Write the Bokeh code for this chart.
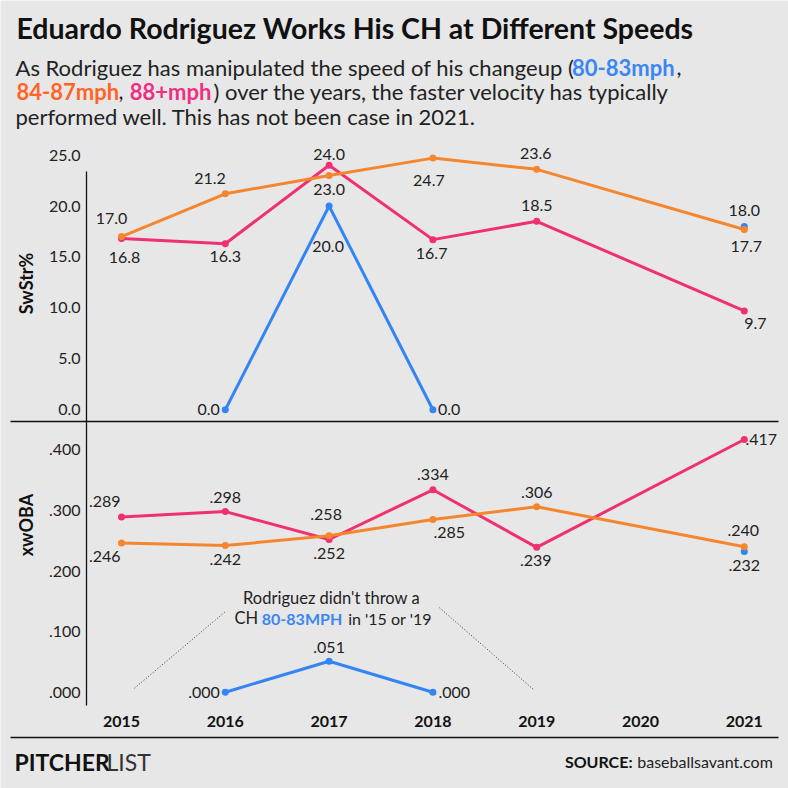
import math
from bokeh.plotting import figure
from bokeh.models import Range1d, LinearAxis, FixedTicker, PrintfTickFormatter, CustomJSTickFormatter
from bokeh.core.properties import value
from bokeh.embed import file_html
from bokeh.resources import INLINE

nan = float("nan")

# ---------------- data ----------------
years = [2015, 2016, 2017, 2018, 2019, 2021]
year_ticks = [2015, 2016, 2017, 2018, 2019, 2020, 2021]
series_names = ["80-83mph", "84-87mph", "88+mph"]

swstr_80_83 = [nan, 0.0, 20.0, 0.0, nan, 18.0]
swstr_84_87 = [17.0, 21.2, 23.0, 24.7, 23.6, 17.7]
swstr_88 = [16.8, 16.3, 24.0, 16.7, 18.5, 9.7]

xwoba_80_83 = [nan, 0.000, 0.051, 0.000, nan, 0.232]
xwoba_84_87 = [0.246, 0.242, 0.258, 0.285, 0.306, 0.240]
xwoba_88 = [0.289, 0.298, 0.252, 0.334, 0.239, 0.417]

swstr_ticks = [0, 5, 10, 15, 20, 25]
xwoba_ticks = [0.0, 0.1, 0.2, 0.3, 0.4]

title_text = "Eduardo Rodriguez Works His CH at Different Speeds"

# ---------------- styles ----------------
BG = "#e7e7e7"
DARK = "#222222"
COL = {"80-83mph": "#3384f4", "84-87mph": "#f5862e", "88+mph": "#f03070"}
SUBCOL = {"80-83mph": "#3a86f2", "84-87mph": "#ff6425", "88+mph": "#ee2f82"}
FONT = "Lato"

# label offsets (screen px) per point: (dx, dy)
sw_off = {
    "80-83mph": [None, (-16.7, 0), (-1, 40), (16.3, 0), None, (0, -16)],
    "84-87mph": [(-10, -18.4), (-15.3, -15.6), (0, 14), (-4, 22.4), (-1, -16), (2, 17)],
    "88+mph": [(3, 18.6), (0, 13), (0, -10.4), (-1.3, 13.6), (0, -15.8), (11, 13)],
}
xw_off = {
    "80-83mph": [None, (-21.3, 0), (0, -14), (21.3, 0), None, (0, 14)],
    "84-87mph": [(-16.7, 13.4), (0, 14), (-3, -21), (16.3, 13.3), (0, -14.6), (-1, -16)],
    "88+mph": [(-16.7, -15.6), (0, -14.4), (0, 14.3), (0, -15), (-1, 13), (17, 0)],
}

W = H = 788
p = figure(width=W, height=H, output_backend="svg", toolbar_location=None,
           x_range=Range1d(0, W), y_range=Range1d(H, 0),
           x_axis_type=None, y_axis_type=None,
           min_border=0, min_border_left=0, min_border_right=0,
           min_border_top=0, min_border_bottom=0)
p.background_fill_color = BG
p.border_fill_color = BG
p.outline_line_color = None
p.grid.visible = False

# year scale and the two value scales (mapped into the two panels)
p.extra_x_ranges = {"yr": Range1d(2013.8343, 2021.4258)}
p.extra_y_ranges = {"sw": Range1d(-37.164, 40.167), "xw": Range1d(-0.15891, 1.14142)}

AX_X = 86  # pixel position of the vertical axis lines


def value_axis(rng, ticks, fmt, line_bounds, label, label_center):
    # tick labels
    a = LinearAxis(y_range_name=rng, ticker=FixedTicker(ticks=ticks), formatter=fmt,
                   fixed_location=AX_X)
    a.axis_line_color = None
    a.major_tick_line_color = None
    a.minor_tick_line_color = None
    a.major_tick_out = 0
    a.major_tick_in = 0
    a.minor_tick_out = 0
    a.major_label_standoff = 6
    a.major_label_text_font = FONT
    a.major_label_text_font_size = "16px"
    a.major_label_text_color = DARK
    p.add_layout(a, "left")
    # axis line
    b = LinearAxis(y_range_name=rng, ticker=FixedTicker(ticks=[]), fixed_location=AX_X,
                   bounds=line_bounds)
    b.axis_line_color = "#111111"
    b.axis_line_width = 1.3
    b.major_tick_out = 0
    b.minor_tick_out = 0
    p.add_layout(b, "left")
    # axis title
    c = LinearAxis(y_range_name=rng, ticker=FixedTicker(ticks=[]), fixed_location=AX_X,
                   bounds=(label_center - 0.5, label_center + 0.5))
    c.axis_line_color = None
    c.major_tick_out = 0
    c.minor_tick_out = 0
    c.major_label_standoff = 0
    c.axis_label = label
    c.axis_label_standoff = 50
    c.axis_label_text_font = FONT
    c.axis_label_text_font_style = "bold"
    c.axis_label_text_font_size = "18px"
    c.axis_label_text_color = "#111111"
    p.add_layout(c, "left")


value_axis("sw", swstr_ticks, PrintfTickFormatter(format="%.1f"), (-1.148, 23.386), "SwStr%", 12.4)
value_axis("xw", xwoba_ticks,
           CustomJSTickFormatter(code="return tick.toFixed(3).replace(/^0/, '');"),
           (-0.02195, 0.4467), "xwOBA", 0.2111)

# horizontal rules
for yloc in (421, 737):
    r = LinearAxis(ticker=FixedTicker(ticks=[]), fixed_location=yloc, bounds=(10, 778))
    r.axis_line_color = "#111111"
    r.axis_line_width = 1.5
    r.major_tick_out = 0
    r.minor_tick_out = 0
    p.add_layout(r, "below")

# year axis
ya = LinearAxis(x_range_name="yr", ticker=FixedTicker(ticks=year_ticks), fixed_location=709)
ya.axis_line_color = None
ya.major_tick_line_color = None
ya.minor_tick_line_color = None
ya.major_tick_out = 0
ya.minor_tick_out = 0
ya.major_label_standoff = 6
ya.major_label_text_font = FONT
ya.major_label_text_font_style = "bold"
ya.major_label_text_font_size = "16px"
ya.major_label_text_color = "#111111"
p.add_layout(ya, "below")

# ---------------- series ----------------
sw_data = {"80-83mph": swstr_80_83, "84-87mph": swstr_84_87, "88+mph": swstr_88}
xw_data = {"80-83mph": xwoba_80_83, "84-87mph": xwoba_84_87, "88+mph": xwoba_88}
order = ["80-83mph", "88+mph", "84-87mph"]

for rng, data in (("sw", sw_data), ("xw", xw_data)):
    for name in order:
        vals = data[name]
        p.line(years, vals, x_range_name="yr", y_range_name=rng,
               line_color=COL[name], line_width=3)
        p.scatter(years, vals, x_range_name="yr", y_range_name=rng,
                  size=7, fill_color=COL[name], line_color=None)


def fmt_sw(v):
    return "%.1f" % v


def fmt_xw(v):
    return ("%.3f" % v).lstrip("0")


for rng, data, offs, f in (("sw", sw_data, sw_off, fmt_sw), ("xw", xw_data, xw_off, fmt_xw)):
    for name in order:
        xs, ys, ts, dxs, dys = [], [], [], [], []
        for yr, v, o in zip(years, data[name], offs[name]):
            if v is None or (isinstance(v, float) and math.isnan(v)):
                continue
            xs.append(yr); ys.append(v); ts.append(f(v)); dxs.append(o[0]); dys.append(o[1])
        p.text(xs, ys, text=ts, x_offset=dxs, y_offset=dys, x_range_name="yr", y_range_name=rng,
               text_font=value(FONT), text_font_size="16px", text_color=DARK,
               text_align="center", text_baseline="middle")


# ---------------- texts (pixel coordinates, vertical centres) ----------------
def txt(x, y, s, color=DARK, size="22px", style="normal", align="left"):
    p.text([x], [y], text=[s], text_font=value(FONT), text_font_size=size,
           text_font_style=style, text_color=color, text_align=align, text_baseline="middle")


txt(16, 27, title_text, color="#111111", size="28.5px", style="bold")

txt(15, 66.7, "As Rodriguez has manipulated the speed of his changeup (")
txt(571.5, 66.7, "80-83mph", color=SUBCOL["80-83mph"], style="bold")
txt(676, 66.7, ",")
txt(16, 91.4, "84-87mph", color=SUBCOL["84-87mph"], style="bold")
txt(118, 91.4, ",")
txt(129.3, 91.4, "88+mph", color=SUBCOL["88+mph"], style="bold")
txt(213, 91.4, ") over the years, the faster velocity has typically")
txt(15, 116.1, "performed well. This has not been case in 2021.")

# annotation
txt(331, 597.2, "Rodriguez didn't throw a", size="16.5px", align="center")
txt(234, 617.7, "CH", size="16.5px")
txt(261.3, 617.7, "80-83MPH", color=SUBCOL["80-83mph"], size="16px", style="bold")
txt(347.7, 617.7, "in '15 or '19", size="16px")
p.segment(x0=[134, 439], y0=[687.7, 607.3], x1=[225, 533.3], y1=[611, 689.3],
          line_color="#333333", line_width=1, line_dash="1 2")

# footer
txt(14, 761.7, "PITCHER", color="#111111", size="23px", style="bold")
txt(106, 761.7, "LIST", color="#333333", size="23px")
txt(632, 760.8, "SOURCE:", color="#111111", size="16px", style="bold", align="right")
txt(772.3, 760.8, "baseballsavant.com", color="#222222", size="16px", align="right")

open("out.html", "w").write(file_html(p, INLINE))
